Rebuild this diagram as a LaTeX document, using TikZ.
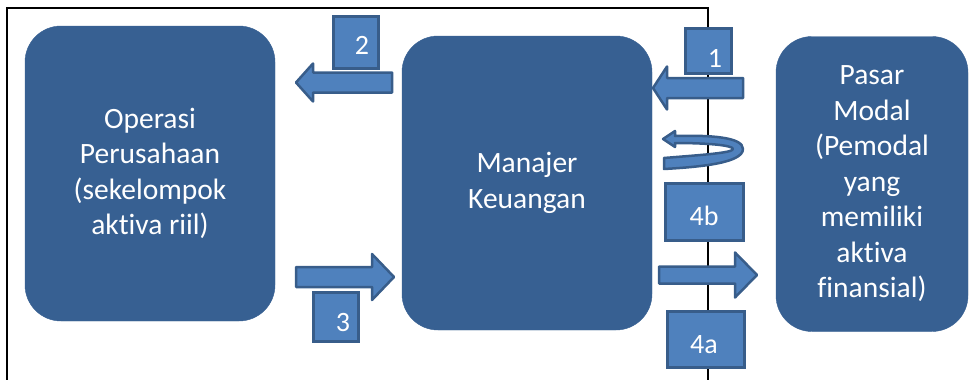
\documentclass[tikz,border=0pt]{standalone}
\usepackage{fontspec}
\setmainfont{Carlito}[Ligatures=NoCommon]
\definecolor{biru}{HTML}{376092}
\definecolor{birumuda}{HTML}{4F81BD}
\definecolor{birutepi}{HTML}{385D8A}

\begin{document}
\begin{tikzpicture}[x=1pt, y=-1pt,
	blok/.style={rounded corners=36pt, fill=biru, draw=biru, text=white,
		font=\fontsize{29.5}{35.5}\selectfont, align=center, inner sep=0pt},
	kotak/.style={fill=birumuda, draw=birutepi, line width=3pt, inner sep=0pt},
	angka/.style={text=white, font=\fontsize{28}{32}\selectfont, anchor=base},
	panah/.style={fill=birumuda, draw=birutepi, line width=2.5pt, line join=round}]
\useasboundingbox (0,0) rectangle (970,380);
% bingkai
\draw[line width=2pt] (7,380) -- (7,8) -- (708,8) -- (708,380);
% kotak besar
\node[blok, minimum width=250, minimum height=295] (operasi) at (150,173.5)
	{Operasi\\Perusahaan\\(sekelompok\\aktiva riil)};
\node[blok, minimum width=250, minimum height=294] (manajer) at (527,183)
	{Manajer\\Keuangan};
\node[blok, minimum width=192, minimum height=295] (pasar) at (872,184)
	{Pasar\\Modal\\(Pemodal\\yang\\memiliki\\aktiva\\finansial)};
% kotak nomor
\node[kotak, minimum width=46, minimum height=45] (k1) at (708.5,51) {};
\node[kotak, minimum width=45, minimum height=52] (k2) at (356,42.5) {};
\node[kotak, minimum width=45, minimum height=49] (k3) at (336,317) {};
\node[kotak, minimum width=78, minimum height=57] (k4b) at (704.5,212) {};
\node[kotak, minimum width=77, minimum height=56] (k4a) at (706,339.5) {};
\node[angka] (a1) at (715,67) {1};
\node[angka] (a2) at (362,54) {2};
\node[angka] (a3) at (343,331) {3};
\node[angka] (a4b) at (704,225) {4b};
\node[angka] (a4a) at (704,353) {4a};
% panah blok
\foreach \ekor/\pangkal/\ujung/\yc/\ts/\ks in
	{392/313/296/82.5/10/19, 743/667/653/88/10/21.5,
	 296/372/394/277/10/23, 659/735/757/275/8.5/22.5}
	\draw[panah] (\ekor,\yc-\ts) -- (\pangkal,\yc-\ts) -- (\pangkal,\yc-\ks)
		-- (\ujung,\yc) -- (\pangkal,\yc+\ks) -- (\pangkal,\yc+\ts)
		-- (\ekor,\yc+\ts) -- cycle;
% panah putar
\draw[panah] (664,169) .. controls (700,167) and (743,163) .. (743,149)
	.. controls (743,137) and (710,135) .. (675,136) -- (675,131)
	-- (663,139) -- (675,147) -- (675,143)
	.. controls (705,143) and (733,145) .. (733,149)
	.. controls (733,153) and (700,155) .. (664,158) -- cycle;
\end{tikzpicture}
\end{document}
